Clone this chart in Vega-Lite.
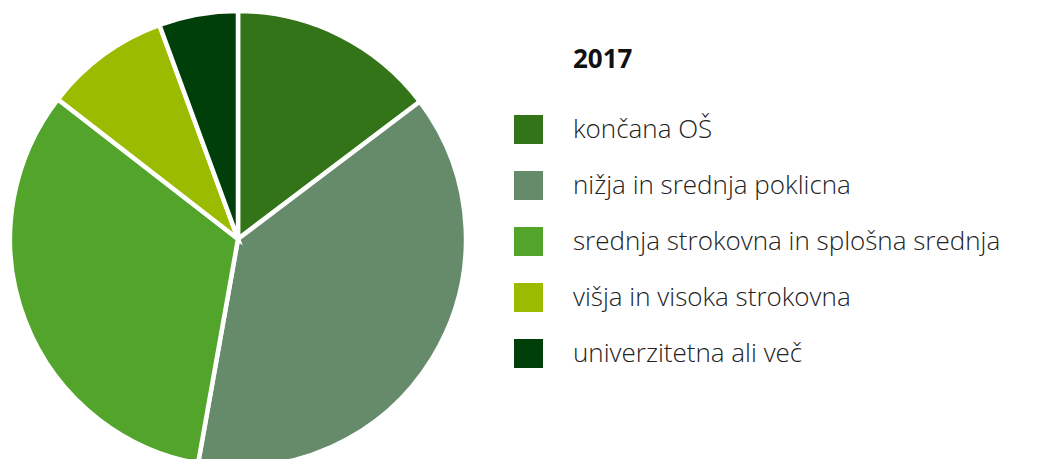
{
  "$schema": "https://vega.github.io/schema/vega-lite/v6.json",
  "width": 476,
  "height": 478,
  "autosize": {"type": "pad"},
  "padding": 0,
  "background": "white",
  "title": {"text": "2017", "anchor": "start", "frame": "group", "orient": "top", "offset": 0, "baseline": "alphabetic", "dx": 573, "dy": 94, "font": "Open Sans", "fontSize": 26, "fontWeight": "bold", "color": "#111111"},
  "data": {"values": [
    {"kategorija": "končana OŠ", "delez": 14.7, "red": 1},
    {"kategorija": "nižja in srednja poklicna", "delez": 38.1, "red": 2},
    {"kategorija": "srednja strokovna in splošna srednja", "delez": 32.7, "red": 3},
    {"kategorija": "višja in visoka strokovna", "delez": 8.9, "red": 4},
    {"kategorija": "univerzitetna ali več", "delez": 5.6, "red": 5}
  ]},
  "mark": {"type": "arc", "outerRadius": 228, "stroke": "white", "strokeWidth": 4.5},
  "encoding": {
    "theta": {"field": "delez", "type": "quantitative", "stack": true},
    "order": {"field": "red", "type": "quantitative"},
    "color": {
      "field": "kategorija", "type": "nominal",
      "sort": ["končana OŠ", "nižja in srednja poklicna", "srednja strokovna in splošna srednja", "višja in visoka strokovna", "univerzitetna ali več"],
      "scale": {"domain": ["končana OŠ", "nižja in srednja poklicna", "srednja strokovna in splošna srednja", "višja in visoka strokovna", "univerzitetna ali več"], "range": ["#337418", "#668B6B", "#52A42A", "#9ABB00", "#003F09"]},
      "legend": {"title": null, "orient": "none", "legendX": 514, "legendY": 115, "symbolType": "square", "symbolSize": 841, "symbolStrokeWidth": 0, "symbolOpacity": 1, "rowPadding": 27, "labelOffset": 30, "labelFont": "Open Sans", "labelFontSize": 26, "labelFontWeight": 300, "labelColor": "#222222", "labelLimit": 700}
    }
  }
}
